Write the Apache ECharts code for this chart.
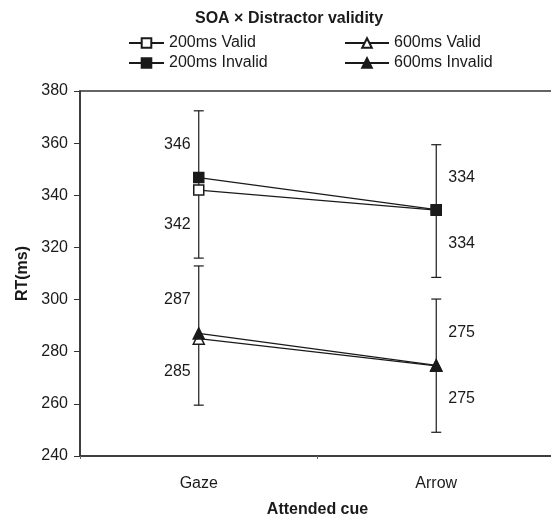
<!DOCTYPE html>
<html><head><meta charset="utf-8">
<script src="https://cdn.jsdelivr.net/npm/echarts@6/dist/echarts.min.js"></script>
<style>html,body{margin:0;padding:0;background:#fff;overflow:hidden}#c{width:557px;height:523px}</style>
</head><body><div id="c"></div>
<script>
// ---- data ----
const categories = ['Gaze', 'Arrow'];
const valid200 = [342.0, 334.3];
const invalid200 = [346.8, 334.5];
const valid600 = [285.0, 274.6];
const invalid600 = [287.0, 274.8];
// error-bar whisker ends
const barHigh200 = [372.4, 359.4];
const barLow200 = [315.9, 308.5];
const barHigh600 = [312.9, 300.2];
const barLow600 = [259.5, 249.1];
// printed value labels
const upperText200 = ['346', '334'];
const lowerText200 = ['342', '334'];
const upperText600 = ['287', '275'];
const lowerText600 = ['285', '275'];
const yMin = 240, yMax = 380, yStep = 20;

// ---- build ----
const FONT = "'Liberation Sans', Arial, Helvetica, sans-serif";
const INK = '#1a1a1a';

const errData = [];
categories.forEach((c, i) => {
  errData.push([i, barHigh200[i], barLow200[i]]);
  errData.push([i, barHigh600[i], barLow600[i]]);
});

const labelItems = [];
categories.forEach((c, i) => {
  labelItems.push({ value: [i, (invalid200[i] + barHigh200[i]) / 2], text: upperText200[i] });
  labelItems.push({ value: [i, (valid200[i] + barLow200[i]) / 2], text: lowerText200[i] });
  labelItems.push({ value: [i, (invalid600[i] + barHigh600[i]) / 2], text: upperText600[i] });
  labelItems.push({ value: [i, (valid600[i] + barLow600[i]) / 2], text: lowerText600[i] });
});

function errRender(params, api) {
  const x = api.value(0), hi = api.value(1), lo = api.value(2);
  const p1 = api.coord([x, hi]), p2 = api.coord([x, lo]);
  const w = 5;
  const st = { stroke: INK, lineWidth: 1.2 };
  return {
    type: 'group', children: [
      { type: 'line', shape: { x1: p1[0], y1: p1[1], x2: p2[0], y2: p2[1] }, style: st },
      { type: 'line', shape: { x1: p1[0] - w, y1: p1[1], x2: p1[0] + w, y2: p1[1] }, style: st },
      { type: 'line', shape: { x1: p2[0] - w, y1: p2[1], x2: p2[0] + w, y2: p2[1] }, style: st }
    ]
  };
}

function labelRender(params, api) {
  const x = api.value(0), y = api.value(1);
  const p = api.coord([x, y]);
  const left = x === 0;
  return {
    type: 'text',
    x: p[0] + (left ? -8 : 12), y: p[1],
    style: {
      text: labelItems[params.dataIndex].text,
      fontSize: 16, fontFamily: FONT, fill: INK,
      align: left ? 'right' : 'left', verticalAlign: 'middle'
    }
  };
}

function lineSeries(name, data, symbol, size, filled) {
  return {
    name, type: 'line', data, symbol, symbolSize: size, z: 5,
    lineStyle: { color: INK, width: 1.3 },
    itemStyle: { color: filled ? INK : '#fff', borderColor: INK, borderWidth: 1.5 },
    emphasis: { disabled: true }
  };
}

const legendCommon = {
  orient: 'vertical', top: 35, padding: 0, itemHeight: 12, itemGap: 4,
  textStyle: { fontSize: 16, color: INK, fontFamily: FONT }, selectedMode: false
};

const chart = echarts.init(document.getElementById('c'), null, { renderer: 'canvas' });
chart.setOption({
  animation: false,
  backgroundColor: '#fff',
  title: {
    text: 'SOA × Distractor validity', left: 195, top: 11, padding: 0,
    textStyle: { fontSize: 16, fontWeight: 'bold', color: INK, fontFamily: FONT }
  },
  legend: [
    Object.assign({ data: ['200ms Valid', '200ms Invalid'], left: 128, itemWidth: 35 }, legendCommon),
    Object.assign({ data: ['600ms Valid', '600ms Invalid'], left: 344, itemWidth: 44 }, legendCommon)
  ],
  grid: { left: 80, top: 91, bottom: 65, right: 2, show: true, borderColor: '#333', borderWidth: 1.5, backgroundColor: 'transparent' },
  xAxis: {
    type: 'category', data: categories, boundaryGap: true,
    name: 'Attended cue', nameLocation: 'middle', nameGap: 46,
    nameTextStyle: { fontSize: 16, fontWeight: 'bold', color: INK, fontFamily: FONT },
    axisLine: { lineStyle: { color: '#333', width: 1.5 } },
    axisTick: { show: true, length: 3, lineStyle: { color: '#666' } },
    axisLabel: { fontSize: 16, color: INK, fontFamily: FONT, margin: 20 },
    splitLine: { show: false }
  },
  yAxis: {
    type: 'value', min: yMin, max: yMax, interval: yStep,
    name: 'RT(ms)', nameLocation: 'middle', nameGap: 48, nameRotate: 90,
    nameTextStyle: { fontSize: 16, fontWeight: 'bold', color: INK, fontFamily: FONT },
    axisLine: { show: true, lineStyle: { color: '#333', width: 1.5 } },
    axisTick: { show: true, length: 6, lineStyle: { color: '#333' } },
    axisLabel: { fontSize: 16, color: INK, fontFamily: FONT, margin: 12 },
    splitLine: { show: false }
  },
  series: [
    { type: 'custom', renderItem: errRender, data: errData, z: 2, encode: { x: 0, y: [1, 2] }, silent: true },
    lineSeries('200ms Valid', valid200, 'rect', 10, false),
    lineSeries('200ms Invalid', invalid200, 'rect', 10, true),
    lineSeries('600ms Valid', valid600, 'triangle', 11, false),
    lineSeries('600ms Invalid', invalid600, 'triangle', 11, true),
    { type: 'custom', renderItem: labelRender, data: labelItems, z: 6, encode: { x: 0, y: 1 }, silent: true }
  ]
});
</script>
</body></html>
